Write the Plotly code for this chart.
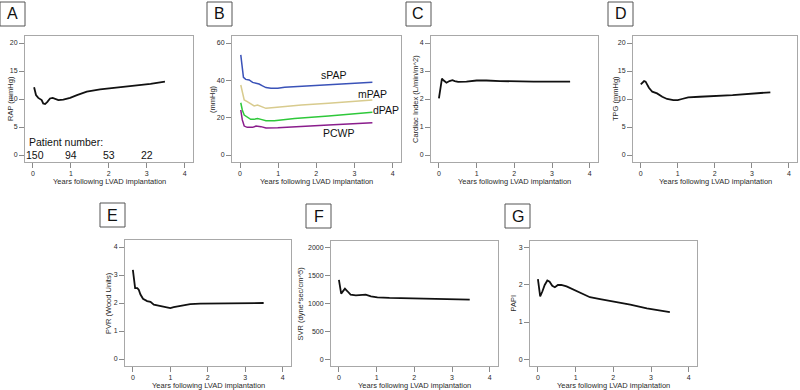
import plotly.graph_objects as go

# ---------------- data ----------------
A_years = [0.03, 0.08, 0.14, 0.23, 0.27, 0.32, 0.38, 0.45, 0.52, 0.58, 0.67, 0.80, 0.98, 1.16, 1.42, 1.77, 2.22, 2.66, 3.10, 3.48]
A_rap = [12.1, 10.7, 10.2, 9.8, 9.2, 9.1, 9.5, 10.1, 10.2, 10.0, 9.8, 9.9, 10.2, 10.7, 11.3, 11.7, 12.0, 12.4, 12.7, 13.1]
patient_years = [0.05, 1, 2, 3]
patient_numbers = ["150", "94", "53", "22"]

B_spap_years = [0.02, 0.06, 0.09, 0.15, 0.24, 0.33, 0.42, 0.50, 0.59, 0.68, 0.81, 0.99, 1.17, 1.43, 1.88, 2.32, 2.76, 3.47]
B_spap = [53.6, 47.3, 41.6, 40.5, 40.2, 38.9, 38.4, 38.0, 37.0, 36.1, 35.7, 35.7, 36.3, 36.6, 37.3, 37.9, 38.4, 39.0]
B_mpap_years = [0.02, 0.06, 0.11, 0.19, 0.28, 0.37, 0.46, 0.55, 0.68, 0.90, 1.17, 1.61, 2.32, 3.47]
B_mpap = [37.5, 33.0, 29.5, 28.6, 27.3, 26.3, 26.8, 25.9, 25.0, 25.4, 25.9, 26.8, 27.7, 29.5]
B_dpap_years = [0.02, 0.06, 0.11, 0.19, 0.28, 0.37, 0.46, 0.55, 0.68, 0.90, 1.08, 1.43, 2.32, 3.47]
B_dpap = [28.0, 24.1, 21.4, 20.2, 19.1, 19.1, 19.6, 19.1, 18.4, 18.4, 18.8, 19.6, 20.9, 22.9]
B_pcwp_years = [0.02, 0.06, 0.11, 0.19, 0.33, 0.42, 0.55, 0.68, 0.99, 1.43, 2.32, 3.47]
B_pcwp = [24.1, 18.8, 15.5, 14.8, 14.8, 15.5, 15.2, 14.5, 14.6, 15.2, 16.1, 17.3]
B_names = ["sPAP", "mPAP", "dPAP", "PCWP"]
B_label_x = [2.45, 3.47, 3.82, 2.6]
B_label_y = [42.9, 32.5, 24.1, 11.6]

C_years = [0.0, 0.04, 0.08, 0.12, 0.20, 0.28, 0.36, 0.42, 0.51, 0.73, 1.0, 1.26, 1.62, 2.51, 3.48]
C_ci = [2.02, 2.43, 2.73, 2.67, 2.58, 2.64, 2.67, 2.64, 2.61, 2.62, 2.66, 2.66, 2.64, 2.62, 2.62]

D_years = [0.0, 0.04, 0.09, 0.13, 0.22, 0.31, 0.44, 0.58, 0.71, 0.88, 1.0, 1.11, 1.28, 1.59, 2.48, 3.50]
D_tpg = [12.6, 12.9, 13.2, 13.1, 12.0, 11.3, 11.0, 10.4, 10.0, 9.8, 9.8, 10.0, 10.3, 10.4, 10.7, 11.2]

E_years = [0.0, 0.03, 0.06, 0.12, 0.16, 0.20, 0.27, 0.38, 0.47, 0.56, 0.69, 0.87, 1.0, 1.09, 1.27, 1.53, 1.80, 2.69, 3.49]
E_pvr = [3.18, 2.82, 2.53, 2.53, 2.47, 2.31, 2.15, 2.07, 2.04, 1.94, 1.90, 1.85, 1.82, 1.85, 1.90, 1.96, 1.98, 1.98, 2.0]

F_years = [0.0, 0.03, 0.06, 0.12, 0.16, 0.22, 0.31, 0.45, 0.71, 0.85, 1.02, 1.34, 2.23, 3.47]
F_svr = [1426, 1302, 1178, 1231, 1266, 1225, 1160, 1148, 1160, 1130, 1112, 1100, 1085, 1071]

G_years = [0.0, 0.03, 0.06, 0.12, 0.18, 0.25, 0.31, 0.38, 0.45, 0.53, 0.62, 0.76, 1.02, 1.38, 1.65, 2.0, 2.45, 2.89, 3.5]
G_papi = [2.16, 1.91, 1.69, 1.83, 2.0, 2.12, 2.09, 1.98, 1.94, 2.0, 2.0, 1.96, 1.83, 1.67, 1.62, 1.56, 1.47, 1.37, 1.27]

x_ticks = [0, 1, 2, 3, 4]
x_title = "Years following LVAD implantation"

# ---------------- layout helpers ----------------
W, H = 800, 390
FONT = "Liberation Sans, Arial, sans-serif"
TXT = "#2a2a2a"

# panel: letter, frame px (left, right, top, bottom), y ticks, y title, y title x px
panels = [
    ("A", (25, 193, 36, 162), [0, 5, 10, 15, 20], "RAP (mmHg)", 10),
    ("B", (232, 401, 36, 162), [0, 20, 40, 60], "(mmHg)", 212),
    ("C", (431, 598, 36, 162), [0, 1, 2, 3, 4], "Cardiac Index (L/min/m^2)", 415),
    ("D", (633, 797, 36, 162), [0, 5, 10, 15, 20], "TPG (mmHg)", 615),
    ("E", (125, 291, 240, 366), [0, 1, 2, 3, 4], "PVR (Wood Units)", 108),
    ("F", (331, 498, 241, 366), [0, 500, 1000, 1500, 2000], "SVR (dyne*sec/cm^5)", 300),
    ("G", (530, 697, 241, 366), [0, 1, 2, 3], "PAPI", 513),
]

series = {
    "A": [(A_years, A_rap, "#111111", 1.8)],
    "B": [(B_spap_years, B_spap, "#3a52b8", 1.5),
          (B_mpap_years, B_mpap, "#d8cb8e", 1.5),
          (B_dpap_years, B_dpap, "#2ec83a", 1.5),
          (B_pcwp_years, B_pcwp, "#8a1d8c", 1.5)],
    "C": [(C_years, C_ci, "#111111", 1.8)],
    "D": [(D_years, D_tpg, "#111111", 1.8)],
    "E": [(E_years, E_pvr, "#111111", 1.8)],
    "F": [(F_years, F_svr, "#111111", 1.8)],
    "G": [(G_years, G_papi, "#111111", 1.8)],
}

fig = go.Figure()
layout = dict(
    width=W, height=H, margin=dict(l=0, r=0, t=0, b=0, autoexpand=False),
    paper_bgcolor="white", plot_bgcolor="white", showlegend=False,
    font=dict(family=FONT, color=TXT),
)
annotations = []
shapes = []

for i, (letter, (l, r, t, b), yt, ytitle, ytx) in enumerate(panels, start=1):
    xa = "xaxis" if i == 1 else f"xaxis{i}"
    ya = "yaxis" if i == 1 else f"yaxis{i}"
    xr = "x" if i == 1 else f"x{i}"
    yr = "y" if i == 1 else f"y{i}"
    ymax = yt[-1]
    common = dict(showgrid=False, zeroline=False, showline=True, mirror=True,
                  automargin=False,
                  linecolor="#a8a8a8", linewidth=1, ticks="outside", ticklen=5,
                  tickcolor="#8a8a8a", tickwidth=1,
                  tickfont=dict(size=7, family=FONT, color=TXT))
    layout[xa] = dict(common, domain=[l / W, r / W], anchor=yr,
                      range=[-0.21, 4.22], tickvals=x_ticks)
    layout[ya] = dict(common, domain=[1 - b / H, 1 - t / H], anchor=xr,
                      range=[-0.0625 * ymax, 1.0625 * ymax], tickvals=yt)
    for xs, ys, col, wdt in series[letter]:
        fig.add_trace(go.Scatter(x=xs, y=ys, mode="lines", xaxis=xr, yaxis=yr,
                                 line=dict(color=col, width=wdt), hoverinfo="skip"))
    # x title
    annotations.append(dict(text=x_title, xref="paper", yref="paper",
                            x=(l + r) / 2 / W, y=1 - (b + 19) / H, showarrow=False,
                            font=dict(size=7.5, family=FONT, color=TXT),
                            xanchor="center", yanchor="middle"))
    # y title
    annotations.append(dict(text=ytitle, xref="paper", yref="paper",
                            x=ytx / W, y=1 - (t + b) / 2 / H, showarrow=False,
                            textangle=-90,
                            font=dict(size=7.5, family=FONT, color=TXT),
                            xanchor="center", yanchor="middle"))
    # letter box
    bt = t - 34 if t < 100 else t - 37
    bx0, bx1, by0, by1 = l - 25, l, bt, bt + 24
    shapes.append(dict(type="rect", xref="paper", yref="paper",
                       x0=bx0 / W, x1=bx1 / W, y0=1 - by1 / H, y1=1 - by0 / H,
                       line=dict(color="#555555", width=1), fillcolor="white"))
    annotations.append(dict(text=letter, xref="paper", yref="paper",
                            x=(bx0 + bx1) / 2 / W, y=1 - (by0 + by1) / 2 / H,
                            showarrow=False, xanchor="center", yanchor="middle",
                            font=dict(size=16, family=FONT, color="#111111")))

# patient numbers in panel A
annotations.append(dict(text="Patient number:", xref="x", yref="y", x=-0.17, y=2.3,
                        showarrow=False, xanchor="left", yanchor="middle",
                        font=dict(size=10.5, family=FONT, color="#111111")))
for px_, lab in zip(patient_years, patient_numbers):
    annotations.append(dict(text=lab, xref="x", yref="y", x=px_, y=0,
                            showarrow=False, xanchor="center", yanchor="middle",
                            font=dict(size=10.5, family=FONT, color="#111111")))

# series labels in panel B
for name, lx, ly in zip(B_names, B_label_x, B_label_y):
    annotations.append(dict(text=name, xref="x2", yref="y2", x=lx, y=ly,
                            showarrow=False, xanchor="center", yanchor="middle",
                            font=dict(size=10.5, family=FONT, color="#111111")))

layout["annotations"] = annotations
layout["shapes"] = shapes
fig.update_layout(**layout)
fig.write_html(
    "out.html",
    config={"displayModeBar": False},
    post_script="document.body.style.margin='0';document.body.style.overflow='hidden';",
)
